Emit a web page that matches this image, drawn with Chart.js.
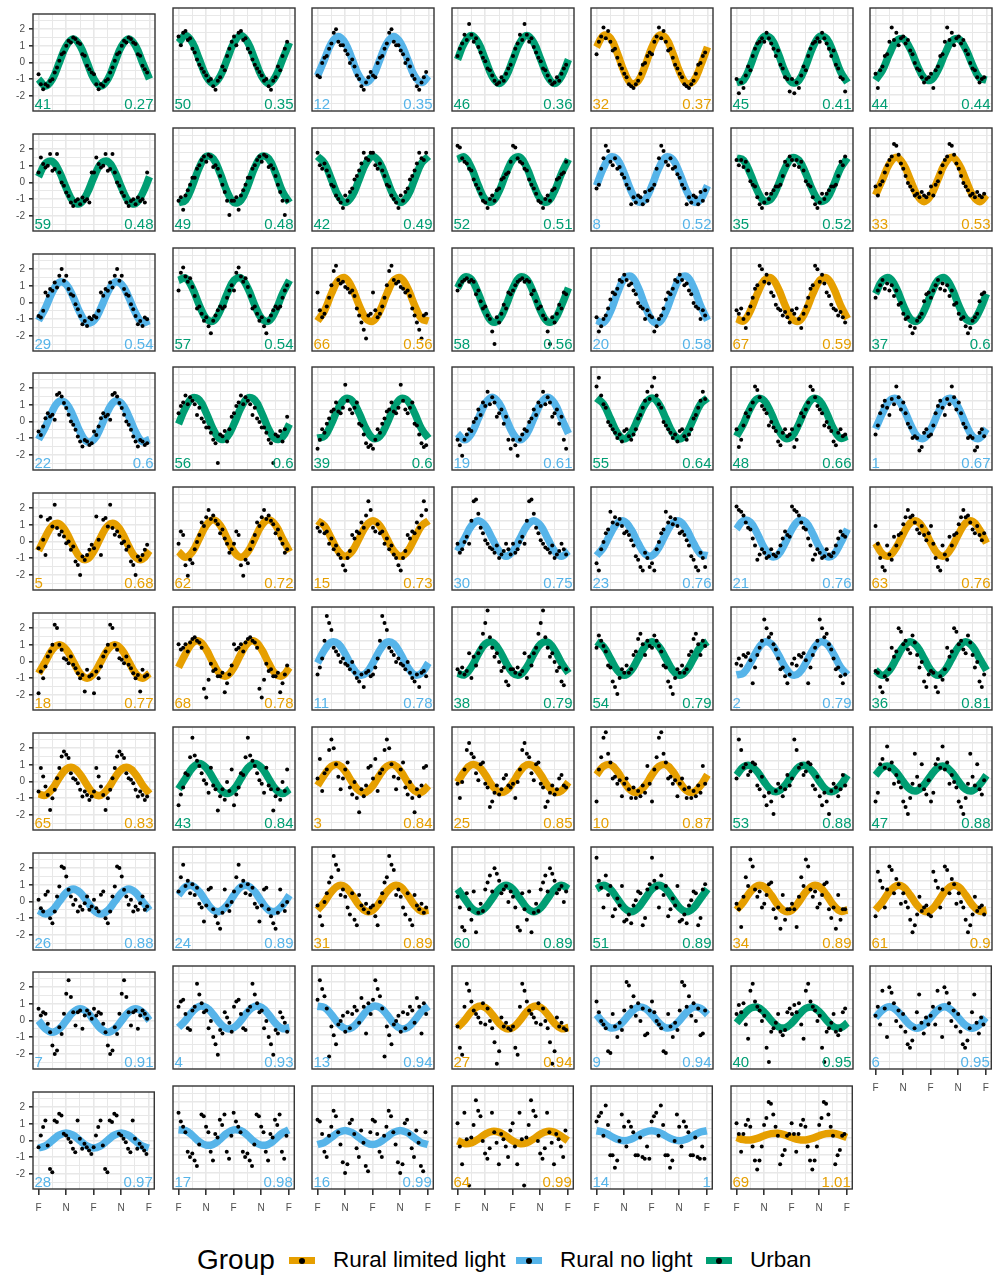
<!DOCTYPE html>
<html>
<head>
<meta charset="utf-8">
<script src="https://cdn.jsdelivr.net/npm/chart.js@4.4.1/dist/chart.umd.min.js"></script>
<style>
  body { margin: 0; background: #fff; width: 995px; height: 1276px; position: relative; overflow: hidden;
         font-family: "Liberation Sans", Arial, sans-serif; }
  canvas.panel { position: absolute; }
  #legend { position: absolute; left: 0; top: 1244px; width: 995px; height: 32px; color: #000; }
  #legend span { position: absolute; }
  #legend .title { font-size: 28px; top: 0; line-height: 32px; }
  #legend .key { width: 26px; height: 7px; top: 13px; }
  #legend .key::after { content: ""; position: absolute; left: 10px; top: 0.5px; width: 6px; height: 6px; border-radius: 50%; background: #000; }
  #legend .lab { font-size: 22.5px; top: 0; line-height: 32px; }
</style>
</head>
<body>
<div id="legend"></div>
<script>
// groups: 0 = Rural limited light, 1 = Rural no light, 2 = Urban
const groupNames = ["Rural limited light", "Rural no light", "Urban"];
const groupColors = ["#E69F00", "#56B4E9", "#009E73"];

const xGridValues = [0, 0.25, 0.5, 0.75, 1, 1.25, 1.5, 1.75, 2];
const xTickLabels = { 0: "F", 0.5: "N", 1: "F", 1.5: "N", 2: "F" };
const yGridValues = [-2.5, -2, -1.5, -1, -0.5, 0, 0.5, 1, 1.5, 2, 2.5];
const yTickLabels = [-2, -1, 0, 1, 2];

const panelIds = [41, 50, 12, 46, 32, 45, 44, 59, 49, 42, 52, 8, 35, 33, 29, 57, 66, 58, 20, 67, 37,
  22, 56, 39, 19, 55, 48, 1, 5, 62, 15, 30, 23, 21, 63, 18, 68, 11, 38, 54, 2, 36,
  65, 43, 3, 25, 10, 53, 47, 26, 24, 31, 60, 51, 34, 61, 7, 4, 13, 27, 9, 40, 6, 28, 17, 16, 64, 14, 69];

const panelValues = ["0.27", "0.35", "0.35", "0.36", "0.37", "0.41", "0.44",
  "0.48", "0.48", "0.49", "0.51", "0.52", "0.52", "0.53",
  "0.54", "0.54", "0.56", "0.56", "0.58", "0.59", "0.6",
  "0.6", "0.6", "0.6", "0.61", "0.64", "0.66", "0.67",
  "0.68", "0.72", "0.73", "0.75", "0.76", "0.76", "0.76",
  "0.77", "0.78", "0.78", "0.79", "0.79", "0.79", "0.81",
  "0.83", "0.84", "0.84", "0.85", "0.87", "0.88", "0.88",
  "0.88", "0.89", "0.89", "0.89", "0.89", "0.89", "0.9",
  "0.91", "0.93", "0.94", "0.94", "0.94", "0.95", "0.95",
  "0.97", "0.98", "0.99", "0.99", "1", "1.01"];

const panelGroups = [2, 2, 1, 2, 0, 2, 2,
  2, 2, 2, 2, 1, 2, 0,
  1, 2, 0, 2, 1, 0, 2,
  1, 2, 2, 1, 2, 2, 1,
  0, 0, 0, 1, 1, 1, 0,
  0, 0, 1, 2, 2, 1, 2,
  0, 2, 0, 0, 0, 2, 2,
  1, 1, 0, 2, 2, 0, 0,
  1, 1, 1, 0, 1, 2, 1,
  1, 1, 1, 0, 1, 0];

// fitted curve, 8 points per lunar cycle (F, +1/8, ... ), plotted twice
const curveValues = [
  [-.99, -1.4, -.99, 0, .99, 1.4, .99, 0],
  [.95, 1.35, .95, 0, -.95, -1.35, -.95, 0],
  [-.92, 0, .92, 1.3, .92, 0, -.92, -1.3],
  [0, .95, 1.35, .95, 0, -.95, -1.35, -.95],
  [.7, 1.35, 1.21, .36, -.7, -1.35, -1.21, -.36],
  [-1.3, -1.17, -.35, .68, 1.3, 1.17, .35, -.68],
  [-1.16, -.6, .31, 1.04, 1.16, .6, -.31, -1.04],
  [.34, 1.13, 1.26, .65, -.34, -1.13, -1.26, -.65],
  [-1.3, -1.17, -.35, .68, 1.3, 1.17, .35, -.68],
  [1.3, .92, 0, -.92, -1.3, -.92, 0, .92],
  [1.13, 1.26, .65, -.34, -1.13, -1.26, -.65, .34],
  [-.34, .65, 1.26, 1.13, .34, -.65, -1.26, -1.13],
  [1.21, 1.08, .32, -.63, -1.21, -1.08, -.32, .63],
  [-.88, 0, .88, 1.25, .88, 0, -.88, -1.25],
  [-1.08, -.32, .63, 1.21, 1.08, .32, -.63, -1.21],
  [1.08, 1.21, .63, -.32, -1.08, -1.21, -.63, .32],
  [-1.21, -.63, .32, 1.08, 1.21, .63, -.32, -1.08],
  [.65, 1.26, 1.13, .34, -.65, -1.26, -1.13, -.34],
  [-1.17, -1.3, -.68, .35, 1.17, 1.3, .68, -.35],
  [-1.08, -1.21, -.63, .32, 1.08, 1.21, .63, -.32],
  [.32, 1.08, 1.21, .63, -.32, -1.08, -1.21, -.63],
  [-1.08, -.32, .63, 1.21, 1.08, .32, -.63, -1.21],
  [-.31, .6, 1.16, 1.04, .31, -.6, -1.16, -1.04],
  [-1.11, -1.0, -.3, .58, 1.11, 1.0, .3, -.58],
  [-.85, -1.2, -.85, 0, .85, 1.2, .85, 0],
  [1.15, .81, 0, -.81, -1.15, -.81, 0, .81],
  [-1.0, -.3, .58, 1.11, 1.0, .3, -.58, -1.11],
  [-.58, .3, 1.0, 1.11, .58, -.3, -1.0, -1.11],
  [-.55, .28, .95, 1.06, .55, -.28, -.95, -1.06],
  [-.74, -1.05, -.74, 0, .74, 1.05, .74, 0],
  [1, .71, 0, -.71, -1, -.71, 0, .71],
  [-.71, 0, .71, 1, .71, 0, -.71, -1],
  [-.97, -.5, .26, .87, .97, .5, -.26, -.87],
  [.53, 1.01, .91, .27, -.53, -1.01, -.91, -.27],
  [-.26, -.87, -.97, -.5, .26, .87, .97, .5],
  [-.71, 0, .71, 1, .71, 0, -.71, -1],
  [-.5, .26, .87, .97, .5, -.26, -.87, -.97],
  [-.25, .48, .92, .82, .25, -.48, -.92, -.82],
  [-.82, -.92, -.48, .25, .82, .92, .48, -.25],
  [.95, .67, 0, -.67, -.95, -.67, 0, .67],
  [-.92, -.82, -.25, .48, .92, .82, .25, -.48],
  [-.67, -.95, -.67, 0, .67, .95, .67, 0],
  [-.74, -.82, -.43, .22, .74, .82, .43, -.22],
  [-.6, 0, .6, .85, .6, 0, -.6, -.85],
  [-.4, .21, .69, .77, .4, -.21, -.69, -.77],
  [-.21, .4, .77, .69, .21, -.4, -.77, -.69],
  [.21, .69, .77, .4, -.21, -.69, -.77, -.4],
  [.19, .65, .72, .38, -.19, -.65, -.72, -.38],
  [.18, .61, .68, .35, -.18, -.61, -.68, -.35],
  [-.53, -.75, -.53, 0, .53, .75, .53, 0],
  [.19, .65, .72, .38, -.19, -.65, -.72, -.38],
  [-.65, -.19, .38, .72, .65, .19, -.38, -.72],
  [.53, 0, -.53, -.75, -.53, 0, .53, .75],
  [.53, .75, .53, 0, -.53, -.75, -.53, 0],
  [-.65, -.19, .38, .72, .65, .19, -.38, -.72],
  [-.65, -.19, .38, .72, .65, .19, -.38, -.72],
  [0, -.5, -.7, -.5, 0, .5, .7, .5],
  [-.56, -.17, .33, .63, .56, .17, -.33, -.63],
  [.63, .56, .17, -.33, -.63, -.56, -.17, .33],
  [-.56, -.17, .33, .63, .56, .17, -.33, -.63],
  [.16, -.3, -.58, -.52, -.16, .3, .58, .52],
  [-.3, .16, .52, .58, .3, -.16, -.52, -.58],
  [0, .42, .6, .42, 0, -.42, -.6, -.42],
  [-.45, -.32, 0, .32, .45, .32, 0, -.32],
  [.43, .39, .12, -.23, -.43, -.39, -.12, .23],
  [-.4, -.28, 0, .28, .4, .28, 0, -.28],
  [-.18, -.34, -.3, -.09, .18, .34, .3, .09],
  [.38, .3, .1, -.1, -.18, -.1, .1, .3],
  [0, -.12, -.14, -.05, .1, .22, .24, .15]
];

// daily observations over one lunar cycle (24 per cycle), plotted twice
const dotValues = [
  [-0.7, -1.3, -1.6, -1.3, -1.4, -1.1, -1.0, -0.6, -0.3, 0.1, 0.5, 0.6, 1.0, 1.3, 1.2, 1.5, 1.4, 1.2, 1.1, 0.5, 0.4, -0.2, -0.4, -0.6],
  [1.3, 0.8, 1.5, 1.6, 1.1, 1.2, 0.6, 0.4, 0.0, -0.3, -0.5, -0.7, -0.9, -1.2, -1.1, -1.5, -1.7, -1.2, -1.0, -0.4, -0.6, 0.2, 0.6, 1.0],
  [-0.9, -1.0, -0.2, 0.1, 0.2, 0.6, 0.9, 1.5, 1.7, 1.0, 0.8, 0.8, 0.5, 0.3, -0.2, 0.0, -0.4, -0.9, -1.1, -1.5, -1.7, -1.3, -1.0, -0.7],
  [0.2, 0.6, 0.9, 1.4, 1.1, 2.0, 1.4, 1.0, 1.2, 0.7, 0.4, 0.1, -0.1, -0.5, -0.6, -0.9, -1.2, -1.4, -1.3, -1.0, -1.2, -0.8, -0.5, -0.3],
  [0.3, 1.0, 1.3, 1.8, 1.2, 1.6, 1.0, 0.5, 0.6, 0.1, -0.3, -0.5, -0.8, -1.0, -1.4, -1.5, -1.6, -1.4, -1.2, -0.8, -0.3, -0.2, 0.2, 0.4],
  [-1.1, -1.9, -1.3, -1.6, -0.9, -0.4, -0.6, 0.2, 0.6, 0.9, 1.0, 1.2, 1.0, 1.5, 1.2, 0.9, 0.6, 0.2, 0.5, -0.3, -0.5, -1.0, -1.1, -1.8],
  [-0.8, -1.6, -0.6, -0.4, 0.2, 0.3, 1.0, 1.8, 1.1, 1.5, 0.8, 1.2, 1.3, 0.9, 1.1, 0.5, 0.3, -0.2, -0.5, -0.6, -1.0, -1.3, -1.1, -1.0],
  [0.6, 1.5, 1.1, 0.9, 1.0, 1.7, 0.7, 0.8, 1.7, 0.6, 0.0, -0.2, -0.6, -0.8, -1.2, -1.4, -1.1, -1.0, -1.3, -0.9, -1.1, -1.0, -1.2, 0.6],
  [-1.2, -1.0, -1.7, -0.9, -0.6, -0.3, 0.1, 0.1, 0.6, 0.8, 1.1, 1.3, 1.0, 1.4, 1.3, 0.7, 0.8, 0.6, 0.2, -0.3, -0.7, -1.2, -2.0, -1.2],
  [1.5, 0.8, 0.6, 0.9, 0.5, 0.2, -0.3, -0.4, -0.9, -1.1, -1.3, -1.6, -0.9, -1.2, -0.7, -0.5, 0.0, 0.2, 0.5, 0.9, 1.5, 1.2, 1.1, 1.5],
  [1.9, 1.8, 1.2, 1.0, 0.9, 0.6, 0.5, 0.0, -0.3, -0.5, -0.8, -1.2, -1.3, -1.6, -1.1, -0.9, -1.2, -0.6, -0.5, 0.0, 0.1, 0.3, 0.4, 1.0],
  [-0.5, -0.3, 0.6, 1.2, 1.9, 1.6, 1.0, 0.8, 1.2, 0.6, 0.7, 0.3, 0.1, -0.3, -0.5, -1.4, -1.0, -1.3, -0.9, -1.0, -1.4, -0.7, -1.2, -0.6],
  [1.1, 0.8, 1.1, 0.7, 1.0, 0.5, -0.1, -0.3, -0.4, -1.0, -1.4, -1.6, -1.3, -0.8, -1.1, -0.8, -0.6, -0.4, -0.4, -0.3, 0.2, 1.0, 0.8, 1.3],
  [-0.4, -0.9, -0.3, -0.1, 0.4, 0.8, 1.1, 1.3, 2.0, 1.9, 1.4, 0.9, 0.6, 0.2, -0.2, -0.4, -0.6, -0.9, -0.8, -1.0, -0.7, -0.9, -1.0, -0.8],
  [-0.8, -0.9, -0.5, 0.6, 0.4, 0.8, 0.7, 1.2, 0.9, 1.6, 2.0, 1.3, 1.6, 0.8, 0.5, 0.4, -0.1, -0.4, -0.8, -1.3, -1.1, -1.4, -0.9, -1.0],
  [0.5, 1.5, 1.8, 1.3, 1.0, 1.2, 0.7, 0.2, -0.5, -0.4, -0.8, -1.2, -1.0, -1.5, -1.9, -1.2, -0.9, -0.6, -0.4, -0.5, -0.4, 0.1, 0.5, 0.8],
  [0.4, -0.6, -1.0, -0.8, -0.4, 0.1, 0.8, 1.6, 1.9, 1.1, 0.9, 1.0, 0.7, 0.6, 0.4, 0.5, 0.2, -0.5, -0.9, -1.3, -1.7, -2.2, -0.9, -0.8],
  [0.5, 0.8, 1.0, 1.1, 1.2, 1.0, 1.1, 1.0, 0.3, 0.5, -0.1, -0.5, -0.4, -0.9, -1.1, -1.8, -2.5, -1.0, -1.3, -0.8, -0.3, -0.5, 0.4, 0.3],
  [-1.0, -1.8, -1.5, -1.1, -0.9, -0.5, 0.0, 0.4, 0.3, 0.6, 1.1, 1.0, 1.4, 1.1, 0.8, 0.9, 0.5, 0.3, -0.2, -0.4, -0.5, -1.1, -0.6, -0.9],
  [-0.6, -0.8, -0.5, -1.1, -1.6, -0.8, -0.4, 0.1, 0.6, 0.8, 1.9, 1.7, 1.0, 1.4, 0.9, 0.4, 0.2, -0.3, -0.5, -0.6, -0.9, -0.7, -1.0, -1.3],
  [0.1, 0.5, 0.8, 1.1, 0.6, 0.9, 0.5, 0.8, 0.2, 0.5, -0.3, -0.2, -0.8, -1.1, -1.0, -1.5, -1.9, -1.6, -1.2, -1.0, -0.8, -0.1, 0.3, 0.4],
  [-0.6, -0.8, -0.3, 0.2, 0.5, 0.3, 0.4, 0.1, 1.6, 1.7, 1.5, 1.1, 0.8, 0.4, 0.0, -0.2, -0.5, -0.9, -1.2, -1.5, -1.1, -1.2, -1.4, -1.3],
  [0.3, 0.7, 0.9, 1.3, 0.8, 1.2, 1.0, 0.8, 0.2, 0.6, 0.0, -0.2, -0.5, -0.5, -0.8, -1.2, -1.4, -2.5, -0.9, -1.0, -0.7, -1.3, -0.6, 0.1],
  [-1.7, -1.2, -0.6, -0.8, -0.3, 0.0, 0.4, 0.5, 0.9, 0.4, 0.3, 0.6, 1.9, 1.0, 0.5, 0.3, 0.6, 0.9, -0.3, -0.4, -0.9, -1.4, -1.6, -1.5],
  [-1.2, -1.5, -2.1, -1.2, -0.9, -0.6, -0.7, -0.2, 0.0, 0.5, 0.2, 0.9, 0.7, 1.5, 0.8, 1.2, 0.9, 0.1, 0.3, 0.5, -0.3, 0.1, -1.2, -1.7],
  [1.8, 2.3, 1.3, 0.8, 0.6, -0.2, -0.4, -0.6, -0.8, -1.1, -0.9, -1.3, -0.7, -0.6, -1.0, -1.2, -0.9, -0.6, 0.0, 0.2, 0.6, 1.0, 1.5, 1.1],
  [-0.6, -1.6, -1.2, -0.4, 0.3, 0.1, 0.5, 0.9, 1.8, 1.6, 1.2, 0.7, 0.5, 0.3, -0.4, -0.2, -0.5, -0.7, -1.3, -1.5, -0.8, -0.6, -1.0, -0.9],
  [-0.9, -0.4, 0.3, 0.7, 1.0, 0.6, 0.2, 1.1, 0.8, 1.8, 1.2, 0.5, 0.9, 0.3, -0.3, -0.5, -1.1, -1.0, -1.1, -1.8, -1.6, -0.8, -0.6, -1.0],
  [-0.4, 1.5, 0.1, -0.8, 1.3, 1.4, 0.9, 2.2, 0.8, 0.4, 0.6, 0.3, -0.1, 0.0, -0.5, -0.3, -1.2, -1.4, -2.0, -0.9, -1.1, -0.8, -0.5, -0.2],
  [-0.3, 0.4, 0.2, -1.5, -2.1, -1.2, -1.4, -0.6, -0.2, 0.2, 0.9, 0.7, 1.2, 1.6, 1.1, 1.3, 1.0, 0.8, 0.3, 0.5, 0.0, -0.3, -0.8, -0.6],
  [0.6, 0.4, 0.8, 0.3, 0.4, -0.3, 0.0, -0.6, -0.4, -0.9, -1.1, -1.5, -1.8, -1.1, -0.7, 0.2, 0.0, 0.4, 0.3, 0.9, 0.6, 1.3, 2.1, 1.6],
  [-0.3, -0.8, -0.6, -0.2, 0.1, -0.3, 1.0, 2.1, 2.2, 1.4, 0.6, 0.3, -0.1, -0.3, -0.5, -0.6, -0.8, -0.4, -1.1, -0.9, -0.7, -0.3, -0.6, -0.9],
  [-1.4, -1.8, -0.6, -0.2, 0.3, 0.5, 1.5, 0.9, 1.2, 0.8, 1.1, 0.7, 0.3, 0.4, 0.2, -0.1, -0.4, -1.0, -1.2, -1.6, -1.8, -0.8, -1.1, -1.6],
  [1.8, 1.6, 1.5, 1.3, 0.9, 0.6, 0.5, 0.0, -0.4, -1.2, -0.9, -0.6, -0.8, -1.1, -1.0, -0.6, -0.9, -1.0, -0.8, -0.4, 0.0, 0.4, 0.2, 0.1],
  [0.7, -0.3, -1.1, -1.6, -1.8, -0.4, -0.9, -1.2, 0.1, -0.4, 0.2, 0.3, 0.8, 1.2, 1.6, 1.2, 1.3, 0.9, 0.5, 0.3, 0.7, 0.2, -0.1, 0.3],
  [-1.9, -0.6, -1.0, -0.3, 0.3, 0.6, 1.0, 2.2, 2.0, 1.0, 0.7, 0.2, 0.1, -0.1, 0.3, -0.2, -0.4, -0.7, -1.0, -0.8, -1.8, -0.5, -0.9, -0.8],
  [0.8, 0.5, 0.6, 0.8, 0.4, 0.9, 1.1, 1.2, 1.0, 0.9, 0.6, -1.7, -2.2, -1.2, -0.3, -0.7, -0.6, -1.0, -1.0, -0.8, -1.9, -1.4, -0.9, -0.4],
  [-0.9, -0.5, 0.0, 1.0, 2.4, 2.0, 1.6, 0.6, 0.4, 0.2, -0.2, 0.0, -0.3, -0.4, -0.6, -0.2, -0.8, -1.1, -1.3, -0.9, -1.6, -0.8, -0.7, -1.0],
  [-0.6, -0.8, -0.5, -0.9, -0.7, 0.3, -1.1, 0.1, -0.4, 0.3, 0.6, 1.4, 2.0, 2.7, 1.2, 0.6, 0.1, 0.3, -0.2, -0.7, -0.5, -1.3, -1.5, -0.6],
  [0.6, 1.3, 1.0, 0.7, 0.4, -0.4, -0.5, -1.3, -1.6, -2.0, -1.1, -0.6, -0.8, -0.4, -0.8, -0.6, 0.2, 0.4, 1.1, 1.4, 0.8, 0.2, 1.0, 0.7],
  [-0.3, 0.0, -0.4, 0.2, 0.1, 0.3, -0.1, -1.4, -0.5, 0.2, 0.6, 1.0, 2.2, 1.7, 1.2, 1.4, 0.8, 0.5, 0.0, -0.6, -0.5, -1.0, -1.4, -0.9],
  [-0.7, -0.8, -1.6, -1.9, -1.0, -1.2, -0.6, 0.6, 0.1, 0.4, 1.7, 1.5, 0.8, 1.0, 0.5, 0.3, 1.3, 0.9, 0.2, -0.5, -0.2, -1.3, -1.6, -0.9],
  [-0.6, 0.8, 0.3, -0.3, -0.8, -1.7, -1.0, -0.5, 0.2, 0.8, 1.5, 1.8, 1.6, 1.4, 0.5, 0.2, 0.1, -0.1, -0.5, -0.9, -0.6, -0.8, -1.1, -0.9],
  [-1.5, -0.9, -0.5, 0.3, 0.2, 1.2, 2.3, 1.3, 1.0, 0.7, 0.3, -0.1, -0.3, -0.8, 0.6, -0.4, -0.6, -1.8, -1.0, -0.6, -1.2, -0.2, -0.7, 0.5],
  [0.0, 1.1, -0.7, 0.3, 0.5, 1.6, 2.2, 1.7, 0.8, 0.1, -0.6, 0.0, 0.5, 0.9, -0.5, -0.9, -0.2, -1.1, -1.9, -0.6, -1.0, -0.4, 0.6, 0.7],
  [-0.3, -1.1, -0.2, 0.5, 1.6, 2.0, 1.4, 1.2, 0.3, -0.1, 0.8, 0.9, -0.3, -0.5, -1.6, -1.3, -0.8, -0.4, -0.9, -0.6, 0.0, 0.2, -0.4, -0.5],
  [-1.3, 0.5, 1.2, 2.3, 2.6, 1.4, 0.9, 0.0, 0.1, -0.3, -0.1, -1.0, -0.3, 0.0, -0.6, -1.1, -0.5, -1.1, -0.7, -1.0, -0.4, -0.8, 0.7, -0.3],
  [0.0, 2.2, 1.6, 0.6, 0.8, 0.2, 0.4, 0.9, 0.8, -0.4, -0.6, 0.1, -1.0, -1.5, -0.8, -1.3, -2.0, -0.7, -0.3, -0.5, -1.0, -0.6, 0.2, -0.4],
  [-1.3, -0.8, 0.8, 1.1, 0.6, 1.8, 0.5, 0.9, -0.3, 0.2, -0.2, -0.5, -1.3, -1.6, -2.0, -1.1, -0.3, 1.4, 0.1, -0.4, 0.8, -0.6, -0.9, -0.1],
  [0.1, -0.4, -0.6, 0.4, 0.6, -1.0, -1.3, -0.6, 0.3, 0.9, 2.1, 2.0, 1.5, 0.7, 0.3, -0.2, 0.1, -0.6, -0.3, -0.5, -0.1, 0.3, -0.5, -0.3],
  [0.4, 1.2, 1.9, 0.7, 1.0, 0.3, 0.8, 0.2, 0.6, -0.3, -0.5, -1.3, -0.4, 0.5, 0.6, -0.6, -1.0, -1.4, -1.7, -0.8, 0.5, -0.4, -0.7, -0.2],
  [-0.4, -1.0, -1.5, -0.2, 0.3, 0.9, 1.2, 2.4, 1.9, 1.6, 0.2, 0.5, 0.1, -0.5, -0.9, 0.3, -1.2, -1.5, 0.2, -0.4, -0.6, -0.3, -0.8, -0.5],
  [0.1, -0.5, -1.6, -1.8, 0.3, -0.6, -1.2, 0.4, -1.9, -0.8, -0.3, -0.7, 0.5, 0.9, 1.3, 0.4, 1.7, 1.4, 1.0, 0.3, 0.5, 0.7, -0.2, 0.4],
  [2.3, 1.0, 0.6, -0.5, 1.3, 0.2, 0.7, -1.0, -0.6, 0.0, -0.4, 0.7, -1.3, -1.2, -0.9, -1.4, -0.4, -0.1, 0.4, 0.3, -1.5, -1.1, 0.5, 0.8],
  [-0.3, -0.6, -1.6, 0.1, 1.2, 0.7, 2.2, 1.8, 0.5, 0.1, 0.4, -0.5, -0.3, 0.2, 0.8, 0.9, -0.6, -1.1, -0.5, -1.7, 0.2, -1.2, -0.6, -0.6],
  [-1.0, 1.5, 1.0, 0.6, -0.5, 0.5, 1.8, 1.6, 0.3, 1.1, 0.8, -0.3, 0.3, -0.2, -0.5, -1.2, -1.9, -1.5, -0.9, 0.1, -0.7, -0.5, -0.4, -0.9],
  [0.7, 0.3, 0.5, 0.4, -0.2, -0.7, -1.5, -2.0, -1.8, -0.4, -0.8, 0.4, 1.6, 2.4, 1.4, 0.5, -0.3, 0.5, 0.6, -0.5, 0.3, 0.6, 0.4, 0.1],
  [0.6, 0.9, 1.0, 0.2, -0.6, -0.7, 0.4, 0.6, 1.9, 1.3, 0.8, 0.3, 0.4, -0.6, -0.2, -1.1, -1.5, -2.1, -0.7, -0.9, 0.3, 0.0, -0.3, -0.8],
  [1.0, 2.1, 1.6, 1.2, 0.5, -2.2, -0.5, -1.0, -1.5, -0.4, -0.2, 0.1, -0.8, 0.3, -0.6, 0.2, 0.6, 0.4, -0.3, 1.1, 0.6, -0.9, 0.8, 0.2],
  [-0.5, -1.7, -2.1, 0.6, 1.9, 1.5, 0.9, 0.4, 0.2, 0.0, -0.3, 0.8, -0.4, 0.5, -0.2, -0.6, -1.4, -2.6, -1.9, 0.0, -0.5, -0.3, -0.6, -0.7],
  [0.9, 0.3, -0.2, -0.4, -0.6, -1.9, -2.0, 0.2, -0.5, -1.1, -0.3, -0.7, 0.4, 2.0, 1.8, 0.6, 1.2, 0.1, 0.8, -0.2, 0.5, -1.0, -0.9, 0.4],
  [0.2, 0.7, 0.3, 0.8, -0.4, -1.2, 1.5, 1.9, 0.9, 0.6, 0.4, -0.2, 0.1, -1.7, -2.5, -0.8, -0.6, -0.3, 0.2, -0.8, -1.0, -0.7, 0.3, 0.5],
  [0.1, 0.6, -0.4, 1.5, 0.5, -1.1, 1.7, 1.4, 0.8, -0.2, 0.4, -0.5, 0.2, -0.8, -1.5, -1.7, -1.3, -0.6, 0.3, 1.3, -0.3, -0.9, 0.0, -0.4],
  [-0.4, 0.3, 0.8, 1.2, -0.3, -1.7, -1.9, 1.2, 1.1, 1.6, 1.5, 0.4, 0.3, 0.1, -0.1, -0.5, -0.7, 1.2, 0.1, -0.5, -0.2, -0.4, -0.6, -0.8],
  [1.4, 0.9, 0.6, 0.3, -0.8, -1.1, -0.9, -1.3, -1.6, -0.4, 1.3, 1.2, 0.6, 0.3, -0.8, -1.3, 0.2, 0.0, 1.0, 0.7, 1.3, -0.8, -1.2, 0.1],
  [1.0, 0.9, 0.2, -0.8, -1.1, 0.1, 0.6, 1.5, 1.2, 0.3, -0.4, -1.4, -2.0, -1.5, 0.8, 1.0, 0.2, -0.6, -1.1, 0.4, -0.3, -1.6, -1.9, 0.3],
  [0.8, -0.5, -1.5, 1.4, -0.1, -2.7, 0.0, 0.7, 2.1, 1.5, 1.2, -0.2, -0.9, -1.2, -0.6, 1.4, 0.3, -0.3, -1.5, 0.2, -0.1, -0.5, -1.1, 0.4],
  [0.9, 1.2, 1.4, 0.1, 1.8, 0.7, -1.0, -1.0, -1.7, -1.3, -0.2, 1.3, 0.6, -0.5, 0.9, 0.6, 0.3, -1.0, -1.0, 0.0, -1.1, -1.2, -0.5, -1.2],
  [0.8, 0.2, -0.8, 0.2, 0.7, 1.0, 0.6, -0.5, -1.3, -1.8, -1.3, -0.5, 0.7, 1.1, 2.0, 1.9, 1.3, 0.6, 0.1, -1.5, -1.0, -0.7, 0.1, 0.2]
];

Chart.defaults.font.family = "'Liberation Sans', Arial, sans-serif";
Chart.defaults.animation = false;

// frame + corner labels drawn on top of the data, like the facet border
const panelFrame = {
  id: "panelFrame",
  afterDatasetsDraw(chart, args, opts) {
    const { ctx, chartArea: a } = chart;
    ctx.save();
    ctx.font = "15px 'Liberation Sans', Arial, sans-serif";
    ctx.fillStyle = opts.color;
    ctx.textBaseline = "alphabetic";
    ctx.textAlign = "left";
    ctx.fillText(opts.id, a.left + 1.5, a.bottom - 2);
    ctx.textAlign = "right";
    ctx.fillText(opts.value, a.right - 1.5, a.bottom - 2);
    ctx.strokeStyle = "#333";
    ctx.lineWidth = 1.4;
    ctx.strokeRect(a.left, a.top, a.right - a.left, a.bottom - a.top);
    ctx.restore();
  }
};

function buildPanel(k) {
  const row = Math.floor(k / 7);
  const col = k % 7;
  const showX = row === 9 || (row === 8 && col === 6);
  const showY = col === 0;
  const color = groupColors[panelGroups[k]];

  const canvas = document.createElement("canvas");
  canvas.className = "panel";
  canvas.width = 159;
  canvas.height = 137;
  canvas.style.width = "159px";
  canvas.style.height = "137px";
  canvas.style.left = (col * 139.5) + "px";
  canvas.style.top = (4 + row * 119.8) + "px";
  document.body.appendChild(canvas);

  const curve = [];
  for (let n = 0; n <= 16; n++) curve.push({ x: n / 8, y: curveValues[k][n % 8] });

  const dots = [];
  [0, 1].forEach(cycle => {
    dotValues[k].forEach((v, i) => dots.push({ x: cycle + i / 24, y: v }));
  });

  new Chart(canvas, {
    type: "scatter",
    data: {
      datasets: [
        { data: dots, order: 0, pointRadius: 2, pointBackgroundColor: "#000", pointBorderWidth: 0 },
        { data: curve, order: 1, showLine: true, pointRadius: 0, borderColor: color, borderWidth: 7.5,
          tension: 0.4, borderCapStyle: "butt" }
      ]
    },
    options: {
      responsive: false,
      layout: { padding: { top: 1, right: 2, left: 0, bottom: 0 } },
      plugins: {
        legend: { display: false },
        tooltip: { enabled: false },
        panelFrame: { id: String(panelIds[k]), value: panelValues[k], color: color }
      },
      scales: {
        x: {
          type: "linear", min: -0.1, max: 2.1,
          afterBuildTicks: s => { s.ticks = xGridValues.map(v => ({ value: v })); },
          afterFit: s => { s.height = 30; },
          border: { display: false },
          grid: {
            color: "#e8e8e8",
            lineWidth: c => (c.tick && xTickLabels[c.tick.value] ? 1.6 : 1.0),
            drawTicks: true, tickLength: 6,
            tickColor: c => (showX && c.tick && xTickLabels[c.tick.value] ? "#333" : "rgba(0,0,0,0)")
          },
          ticks: {
            display: showX, autoSkip: false, maxRotation: 0, padding: 7,
            color: "#4d4d4d", font: { size: 10 },
            callback: v => xTickLabels[v] || ""
          }
        },
        y: {
          type: "linear", min: -2.9, max: 2.9,
          afterBuildTicks: s => { s.ticks = yGridValues.map(v => ({ value: v })); },
          afterFit: s => { s.width = 33; },
          border: { display: false },
          grid: {
            color: "#e8e8e8",
            lineWidth: c => (c.tick && yTickLabels.includes(c.tick.value) ? 1.6 : 1.0),
            drawTicks: true, tickLength: 4,
            tickColor: c => (showY && c.tick && yTickLabels.includes(c.tick.value) ? "#333" : "rgba(0,0,0,0)")
          },
          ticks: {
            display: showY, autoSkip: false, padding: 4,
            color: "#4d4d4d", font: { size: 10 },
            callback: v => (yTickLabels.includes(v) ? String(v) : "")
          }
        }
      }
    },
    plugins: [panelFrame]
  });
}

function buildLegend() {
  const legend = document.getElementById("legend");
  const keyLeft = [289, 516, 706];
  legend.innerHTML = '<span class="title" style="left:197px">Group</span>';
  groupNames.forEach((name, i) => {
    legend.innerHTML += `<span class="key" style="left:${keyLeft[i]}px;background:${groupColors[i]}"></span>` +
      `<span class="lab" style="left:${keyLeft[i] + 44}px">${name}</span>`;
  });
}

panelIds.forEach((id, k) => buildPanel(k));
buildLegend();
</script>
</body>
</html>
